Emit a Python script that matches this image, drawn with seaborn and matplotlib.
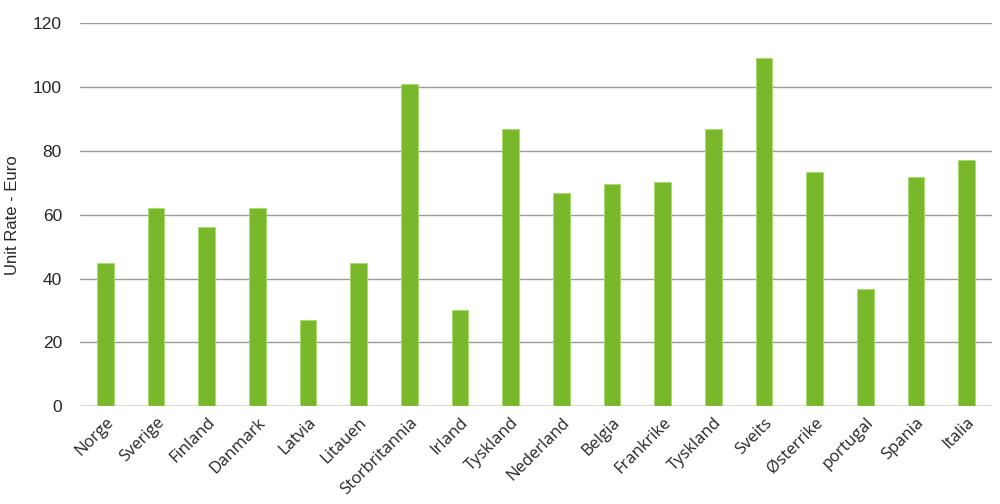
import numpy as np
import matplotlib
matplotlib.use("Agg")
import matplotlib.pyplot as plt
import seaborn as sns

countries = ["Norge", "Sverige", "Finland", "Danmark", "Latvia", "Litauen",
             "Storbritannia", "Irland", "Tyskland", "Nederland", "Belgia",
             "Frankrike", "Tyskland", "Sveits", "Østerrike", "portugal",
             "Spania", "Italia"]
unit_rate = [45, 62, 56, 62, 27, 45, 101, 30, 87, 66.8, 69.6, 70.2, 87, 109,
             73.3, 36.7, 71.8, 77]
y_ticks = [0, 20, 40, 60, 80, 100, 120]

sns.set_style("white")
plt.rcParams['font.family'] = ['Liberation Sans', 'DejaVu Sans']

fig = plt.figure(figsize=(10, 5.04), dpi=100)
ax = fig.add_axes([0.08, 0.194, 0.912, 0.76])

pos = np.arange(len(countries))
sns.barplot(x=pos, y=unit_rate, color="#78B82A", saturation=1, width=0.33,
            edgecolor="#A6DB6A", linewidth=0.6, ax=ax)

ax.set_ylim(0, 120)
ax.set_yticks(y_ticks)
ax.set_xlim(-0.5, len(countries) - 0.5)
ax.yaxis.grid(True, color="#9a9a9a", linewidth=1)
ax.set_axisbelow(True)
sns.despine(ax=ax, left=True, bottom=True)
ax.axhline(0, color="#8a8a8a", linewidth=1, zorder=0)

ax.set_xticks(pos)
ax.set_xticklabels(countries, rotation=45, ha="right", rotation_mode="anchor",
                   fontsize=12, family=["Open Sans", "DejaVu Sans"])
ax.tick_params(axis="y", labelsize=12.5, length=0, pad=13)
ax.tick_params(axis="x", length=0, pad=6)
ax.set_ylabel("Unit Rate - Euro", fontsize=12)
ax.yaxis.set_label_coords(-0.066, 0.5)
ax.set_xlabel("")

plt.savefig("out.png", dpi=100)
